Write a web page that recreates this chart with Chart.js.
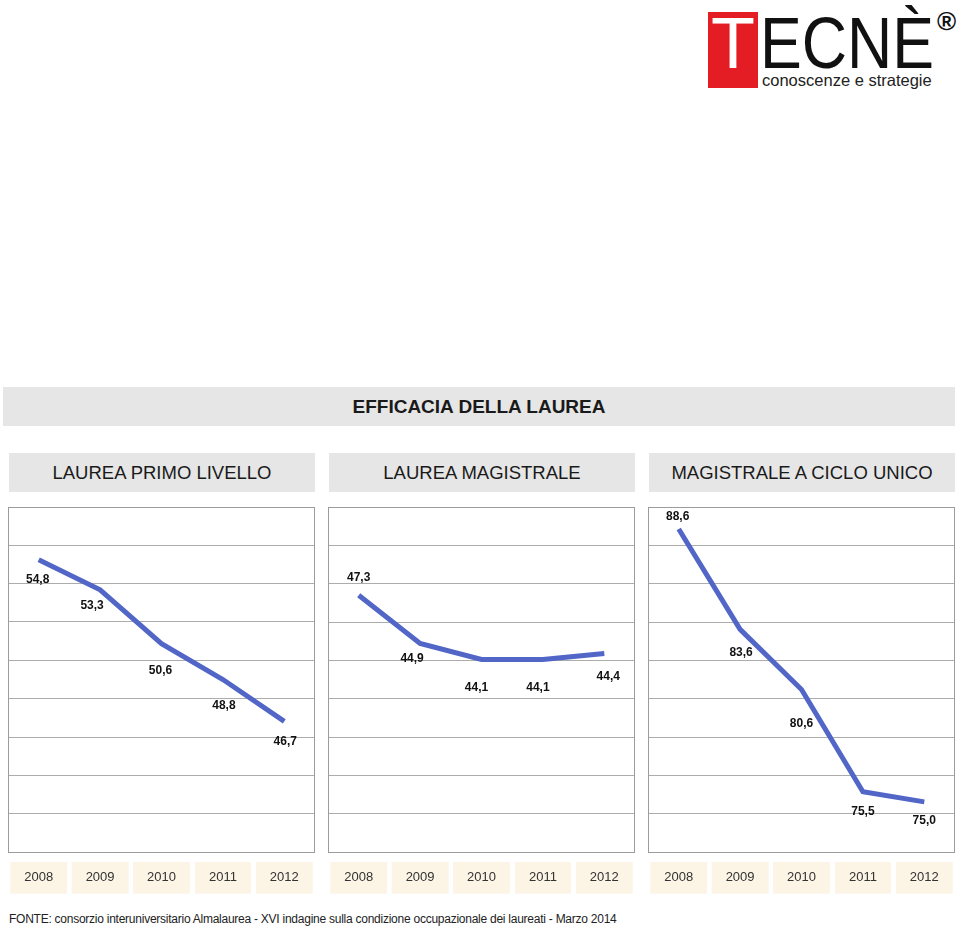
<!DOCTYPE html>
<html>
<head>
<meta charset="utf-8">
<script src="https://cdn.jsdelivr.net/npm/chart.js@4.4.1/dist/chart.umd.min.js"></script>
<style>
	body { margin: 0; background: #fff; font-family: "Liberation Sans", Arial, sans-serif; }
	#page { position: relative; width: 960px; height: 929px; overflow: hidden; }
	.abs { position: absolute; }
	.bar { background: #e6e6e6; color: #1a1a1a; text-align: center; }
	.logo-red { left: 708px; top: 12px; width: 50px; height: 76px; background: #e41d25; }
	.logo-t { left: 711px; top: 3px; font-size: 72px; line-height: 80px; color: #fff; }
	.logo-word { left: 760px; top: 3px; font-size: 72px; line-height: 80px; color: #111; transform: scaleX(0.87); transform-origin: left top; }
	.logo-sub { left: 762px; top: 71px; font-size: 16.5px; color: #222; white-space: nowrap; }
	.logo-r { left: 937px; top: 6px; font-size: 26px; font-weight: bold; color: #111; }
	.panel { width: 310px; height: 390px; }
</style>
</head>
<body>
<div id="page">
	<div class="abs logo-red"></div>
	<div class="abs logo-t">T</div>
	<div class="abs logo-word">ECNÈ</div>
	<div class="abs logo-sub">conoscenze e strategie</div>
	<div class="abs logo-r">®</div>

	<div class="abs bar" style="left:3px;top:387px;width:952px;height:39px;line-height:40px;font-size:19px;font-weight:bold;">EFFICACIA DELLA LAUREA</div>
	<div class="abs bar" id="h0" style="left:9px;top:453px;width:306px;height:39px;line-height:40px;font-size:18.5px;"></div>
	<div class="abs bar" id="h1" style="left:329px;top:453px;width:306px;height:39px;line-height:40px;font-size:18.5px;"></div>
	<div class="abs bar" id="h2" style="left:649px;top:453px;width:306px;height:39px;line-height:40px;font-size:18.5px;"></div>

	<div class="abs panel" style="left:7px;top:506px;"><canvas id="c0" width="310" height="390"></canvas></div>
	<div class="abs panel" style="left:327px;top:506px;"><canvas id="c1" width="310" height="390"></canvas></div>
	<div class="abs panel" style="left:647px;top:506px;"><canvas id="c2" width="310" height="390"></canvas></div>

	<div class="abs" style="left:9px;top:912px;font-size:12px;letter-spacing:-0.25px;color:#222;white-space:nowrap;">FONTE: consorzio interuniversitario Almalaurea - XVI indagine sulla condizione occupazionale dei laureati - Marzo 2014</div>
</div>

<script>
"use strict"

// data
const years = ["2008", "2009", "2010", "2011", "2012"]
const panelTitles = ["LAUREA PRIMO LIVELLO", "LAUREA MAGISTRALE", "MAGISTRALE A CICLO UNICO"]
const primoLivello = [54.8, 53.3, 50.6, 48.8, 46.7]
const magistrale = [47.3, 44.9, 44.1, 44.1, 44.4]
const cicloUnico = [88.6, 83.6, 80.6, 75.5, 75.0]
const yMins = [40.15, 34.5, 72.5]
const yMaxs = [57.45, 51.7, 89.7]

// where each value label sits relative to its point
const labelDx = [
	[-1, -8, -1, 1, 1],
	[0, -8, -5, -5, 4],
	[-1, 1, 0, 0, 0],
]
const labelDy = [
	[20, 16, 27, 26, 20],
	[-18, 15, 28, 28, 23],
	[-12, 23, 34, 20, 19],
]

const series = [primoLivello, magistrale, cicloUnico]

function fmt(v) {
	return v.toFixed(1).replace(".", ",")
}

const boxBorder = {
	id: "boxBorder",
	afterDatasetsDraw(chart) {
		const a = chart.chartArea
		const ctx = chart.ctx
		ctx.save()
		ctx.strokeStyle = "#9c9c9c"
		ctx.lineWidth = 1
		ctx.strokeRect(Math.round(a.left) + 0.5, Math.round(a.top) + 0.5, Math.round(a.right - a.left) - 1, Math.round(a.bottom - a.top))
		ctx.restore()
	},
}

const valueLabels = {
	id: "valueLabels",
	afterDatasetsDraw(chart, args, opts) {
		const ctx = chart.ctx
		const meta = chart.getDatasetMeta(0)
		const data = chart.data.datasets[0].data
		ctx.save()
		ctx.font = "bold 12px 'Liberation Sans', Arial, sans-serif"
		ctx.fillStyle = "#111"
		ctx.textAlign = "center"
		ctx.textBaseline = "middle"
		meta.data.forEach((pt, i) => {
			ctx.fillText(fmt(data[i]), pt.x + opts.dx[i], pt.y + opts.dy[i])
		})
		ctx.restore()
	},
}

series.forEach((values, p) => {
	document.getElementById("h" + p).textContent = panelTitles[p]

	new Chart(document.getElementById("c" + p), {
		type: "line",
		data: {
			labels: years,
			datasets: [
				{
					data: values,
					borderColor: "#5166c6",
					borderWidth: 5,
					pointRadius: 0,
					tension: 0,
					fill: false,
				},
			],
		},
		options: {
			responsive: false,
			animation: false,
			devicePixelRatio: 1,
			layout: {
				padding: { top: 1, left: 1, right: 2, bottom: 0 },
			},
			scales: {
				x: {
					type: "category",
					offset: true,
					grid: { display: false },
					border: { display: false },
					afterFit: (s) => {
						s.height = 44
					},
					ticks: {
						autoSkip: false,
						maxRotation: 0,
						padding: 10,
						color: "#333",
						font: { family: "'Liberation Sans', Arial, sans-serif", size: 13 },
						showLabelBackdrop: true,
						backdropColor: "#fcf4e5",
						backdropPadding: { top: 8, bottom: 8, left: 14, right: 14 },
					},
				},
				y: {
					min: yMins[p],
					max: yMaxs[p],
					border: { display: false },
					grid: { color: "#acacac", drawTicks: false },
					afterFit: (s) => {
						s.width = 0
					},
					ticks: { display: false, count: 10 },
				},
			},
			plugins: {
				legend: { display: false },
				tooltip: { enabled: false },
				valueLabels: { dx: labelDx[p], dy: labelDy[p] },
			},
		},
		plugins: [boxBorder, valueLabels],
	})
})
</script>
</body>
</html>
